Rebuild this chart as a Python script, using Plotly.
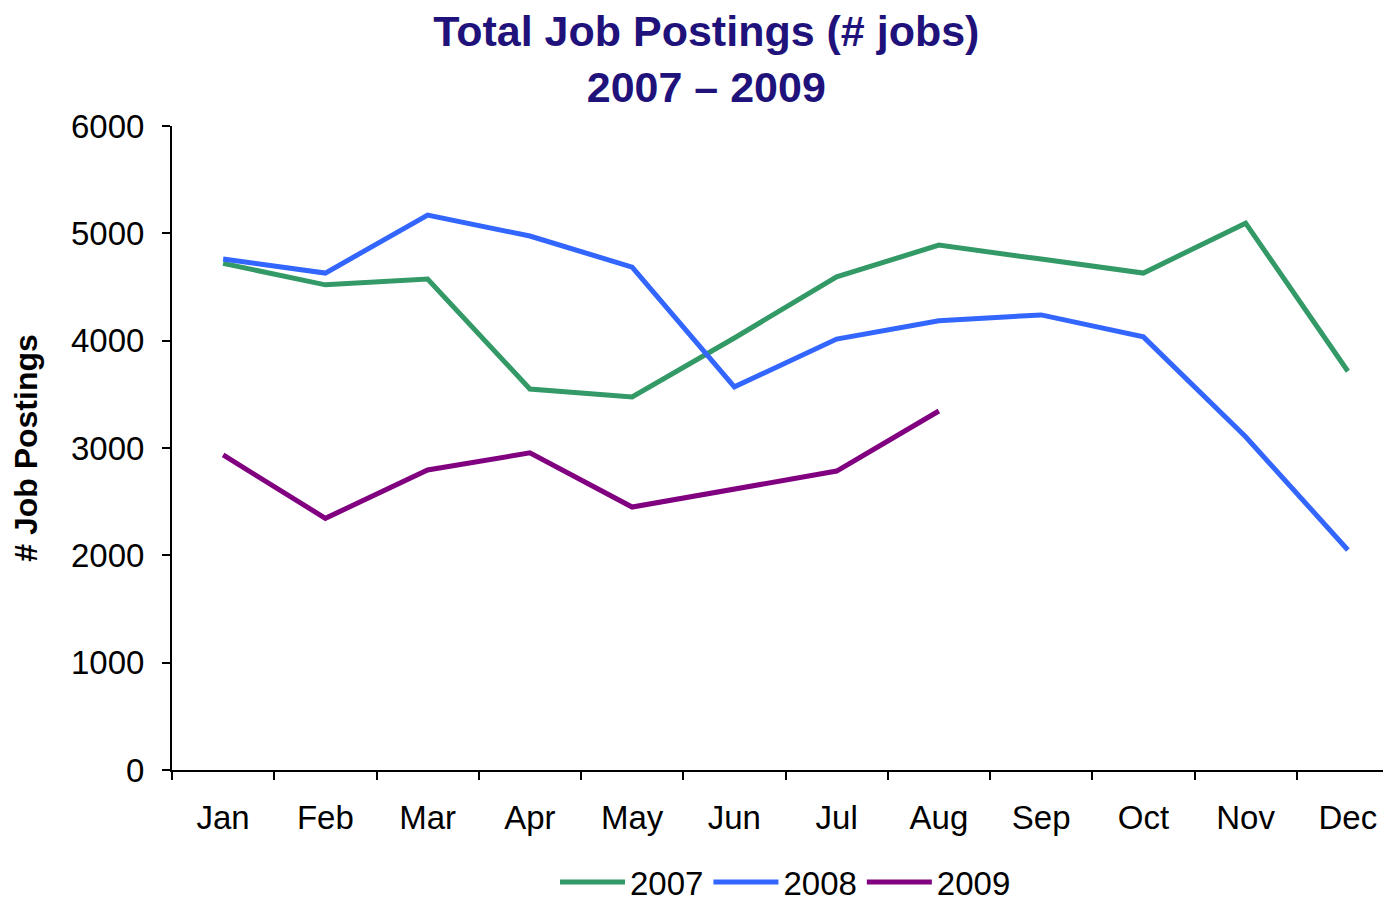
import plotly.graph_objects as go

months = ["Jan", "Feb", "Mar", "Apr", "May", "Jun", "Jul", "Aug", "Sep", "Oct", "Nov", "Dec"]
y2007 = [4720, 4520, 4575, 3550, 3475, 4025, 4595, 4890, 4760, 4630, 5095, 3715]
y2008 = [4760, 4630, 5170, 4975, 4685, 3570, 4015, 4185, 4240, 4035, 3105, 2050]
y2009 = [2935, 2345, 2795, 2955, 2450, 2620, 2785, 3345]
years = ["2007", "2008", "2009"]
colors = ["#339966", "#3366FF", "#800080"]

fig = go.Figure()
for name, vals, col in zip(years, [y2007, y2008, y2009], colors):
    fig.add_trace(go.Scatter(
        x=months[:len(vals)], y=vals, name=name, mode="lines",
        line=dict(color=col, width=5),
    ))

font_family = "Liberation Sans, Arial, sans-serif"
fig.update_layout(
    width=1391, height=902,
    paper_bgcolor="white", plot_bgcolor="white",
    margin=dict(l=164, r=0, t=118, b=140, autoexpand=False),
    font=dict(family=font_family, color="black", size=33),
    title=dict(
        text="<b>Total Job Postings (# jobs)<br>2007 – 2009</b>",
        x=0.502, xanchor="center", xref="container", y=0.958, yanchor="middle", yref="container",
        font=dict(size=43, color="#1F127A", family=font_family),
    ),
    showlegend=True,
    legend=dict(orientation="h", x=0.5, xanchor="center", xref="paper",
                y=0.031, yanchor="middle", yref="container",
                font=dict(size=33), traceorder="normal", itemwidth=65),
    xaxis=dict(
        type="category", range=[-0.5, 11.5], showgrid=False, zeroline=False,
        showline=True, linecolor="black", linewidth=2, automargin=False,
        ticks="outside", tickson="boundaries", ticklen=8, tickwidth=2, tickcolor="black",
        tickfont=dict(size=33), ticklabelstandoff=17,
    ),
    yaxis=dict(
        range=[0, 6000], dtick=1000, showgrid=False, zeroline=False,
        showline=True, linecolor="black", linewidth=2, automargin=False,
        ticks="outside", ticklen=8, tickwidth=2, tickcolor="black",
        tickfont=dict(size=33), ticklabelstandoff=11,
        title=dict(text="<b># Job Postings</b>", font=dict(size=32), standoff=28),
    ),
)

fig.write_html("out.html")
